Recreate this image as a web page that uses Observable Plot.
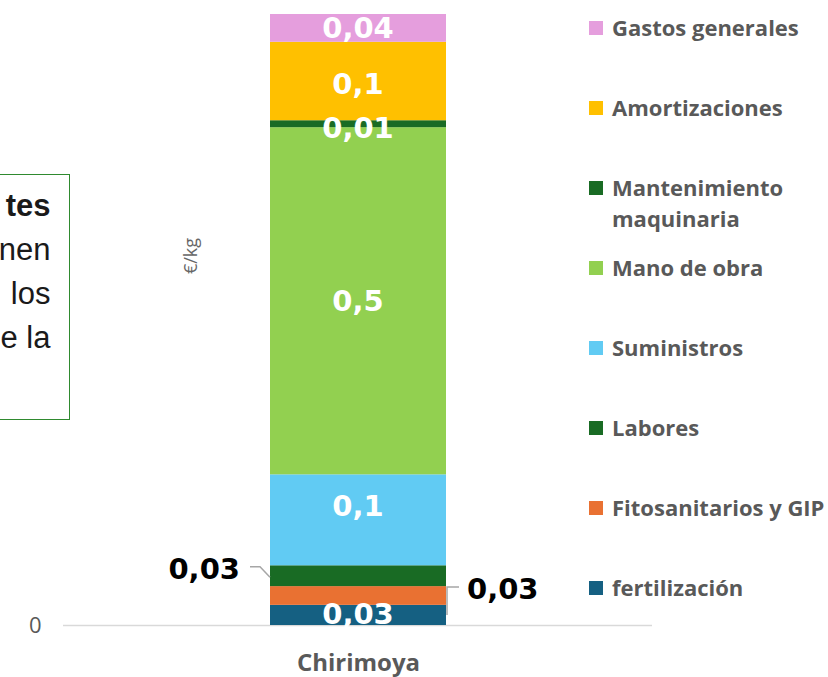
<!DOCTYPE html>
<html>
<head>
<meta charset="utf-8">
<script src="https://cdn.jsdelivr.net/npm/d3@7"></script>
<script src="https://cdn.jsdelivr.net/npm/@observablehq/plot@0.6"></script>
<style>
html, body { margin: 0; padding: 0; background: #fff; }
#wrap { position: relative; width: 828px; height: 677px; overflow: hidden; background: #fff; }
#chart { position: absolute; left: 0; top: 0; }
#textbox {
  position: absolute; left: -230px; top: 174px; width: 300px; height: 246px;
  box-sizing: border-box; border: 1.5px solid #2f8a2f; background: #fff;
  font-family: "Liberation Sans", Arial, sans-serif; font-size: 31px; line-height: 44px;
  color: #1a1a1a; text-align: right; padding-right: 18.5px; padding-top: 9px; z-index: 2;
}
.legend-item { position: absolute; left: 589px; height: 31px; font-family: "Open Sans", sans-serif;
  font-weight: 700; font-size: 22px; line-height: 31px; color: #595959; }
.legend-item .sw { position: absolute; left: 0; top: 9px; width: 14px; height: 14px; }
.legend-item .lbl { position: absolute; left: 23px; top: 0; width: 217px; white-space: normal; }
</style>
</head>
<body>
<div id="wrap">
  <div id="chart"></div>
  <div id="textbox"><b>tes</b><br>nen<br>los<br>e la</div>
  <div id="legend"></div>
</div>
<script>
// ---- data ----
const categories = ["Chirimoya"];
const series = ["fertilización", "Fitosanitarios y GIP", "Labores", "Suministros", "Mano de obra", "Mantenimiento maquinaria", "Amortizaciones", "Gastos generales"];
const values = [0.029, 0.027, 0.030, 0.131, 0.5, 0.010, 0.113, 0.040];
const labels = ["0,03", "0,03", "0,03", "0,1", "0,5", "0,01", "0,1", "0,04"];
const colors = ["#156082", "#E97132", "#196B24", "#61CBF3", "#92D050", "#196B24", "#FFC000", "#E59EDD"];
const yUnit = "€/kg";

const outsideLeft = "Labores";
const outsideRight = "Fitosanitarios y GIP";
// small vertical nudges (px) of the in-bar labels, as placed in the original
const labelNudge = {"Suministros": -14, "Amortizaciones": 3, "Mantenimiento maquinaria": 4, "fertilización": -1};

const rows = series.map((s, i) => ({category: categories[0], series: s, value: values[i], label: labels[i]}));

function outsideMarks(index, scales) {
  const sx = scales.x, sy = scales.y;
  const bw = typeof sx.bandwidth === "function" ? sx.bandwidth() : sx.bandwidth;
  const x0 = sx(categories[0]), x1 = x0 + bw;
  const cum = d3.cumsum(values);
  const mid = i => sy(cum[i] - values[i] / 2);
  const g = d3.create("svg:g");
  const iL = series.indexOf(outsideLeft), iR = series.indexOf(outsideRight), iF = series.indexOf("fertilización");
  const yL = mid(iL) - 7, yR = mid(iR) - 7;
  const leader = "#a6a6a6";
  g.append("path").attr("d", `M${x0 - 20},${yL - 2}H${x0 - 10}L${x0},${mid(iL) + 1.5}`)
    .attr("fill", "none").attr("stroke", leader).attr("stroke-width", 1.5);
  g.append("path").attr("d", `M${x1 + 13},${yR - 1.5}H${x1 + 1}V${mid(iF)}`)
    .attr("fill", "none").attr("stroke", leader).attr("stroke-width", 1.5);
  const txt = (x, y, anchor, t) => g.append("text").attr("x", x).attr("y", y).attr("dy", "0.35em")
    .attr("text-anchor", anchor).attr("font-family", "DejaVu Sans").attr("font-weight", "bold")
    .attr("font-size", 29).attr("fill", "#000").text(t);
  txt(x0 - 30, yL, "end", labels[iL]);
  txt(x1 + 21, yR, "start", labels[iR]);
  return g.node();
}

function inBarLabels(index, scales) {
  const sx = scales.x, sy = scales.y;
  const bw = typeof sx.bandwidth === "function" ? sx.bandwidth() : sx.bandwidth;
  const xc = sx(categories[0]) + bw / 2;
  const cum = d3.cumsum(values);
  const g = d3.create("svg:g");
  series.forEach((s, i) => {
    if (s === outsideLeft || s === outsideRight) return;
    const y = sy(cum[i] - values[i] / 2) + (labelNudge[s] || 0);
    g.append("text").attr("x", xc).attr("y", y).attr("dy", "0.35em").attr("text-anchor", "middle")
      .attr("font-family", "DejaVu Sans").attr("font-weight", "bold").attr("font-size", 29)
      .attr("fill", "white").text(labels[i]);
  });
  return g.node();
}

const chart = Plot.plot({
  width: 828,
  height: 677,
  marginLeft: 63,
  marginRight: 176,
  marginTop: 14,
  marginBottom: 52,
  style: {fontFamily: "Open Sans", background: "white"},
  x: {domain: categories, padding: 0.54, axis: null},
  y: {domain: [0, d3.sum(values)], axis: null},
  color: {domain: series, range: colors},
  marks: [
    Plot.ruleY([0], {stroke: "#d9d9d9", strokeWidth: 1.5}),
    Plot.barY(rows, Plot.stackY({x: "category", y: "value", fill: "series", order: null})),
    inBarLabels,
    outsideMarks,
    Plot.axisX({tickSize: 0, tickPadding: 28, fontSize: 24, fontWeight: "bold", color: "#595959", label: null}),
    Plot.axisY({ticks: [0], tickSize: 0, tickPadding: 22, fontSize: 22, color: "#595959", label: null, tickFormat: d => String(d)}),
    Plot.text([yUnit], {frameAnchor: "left", textAnchor: "middle", dx: 128, dy: -64, rotate: -90, fontSize: 18, fill: "#666", fontFamily: "Open Sans"})
  ]
});
document.getElementById("chart").appendChild(chart);

// ---- legend (top to bottom = reverse stack order) ----
const legend = document.getElementById("legend");
series.slice().reverse().forEach((s, k) => {
  const i = series.indexOf(s);
  const item = document.createElement("div");
  item.className = "legend-item";
  item.style.top = (12 + 80 * k) + "px";
  const sw = document.createElement("div");
  sw.className = "sw";
  sw.style.background = colors[i];
  const lbl = document.createElement("div");
  lbl.className = "lbl";
  lbl.textContent = s;
  item.appendChild(sw);
  item.appendChild(lbl);
  legend.appendChild(item);
});
</script>
</body>
</html>
